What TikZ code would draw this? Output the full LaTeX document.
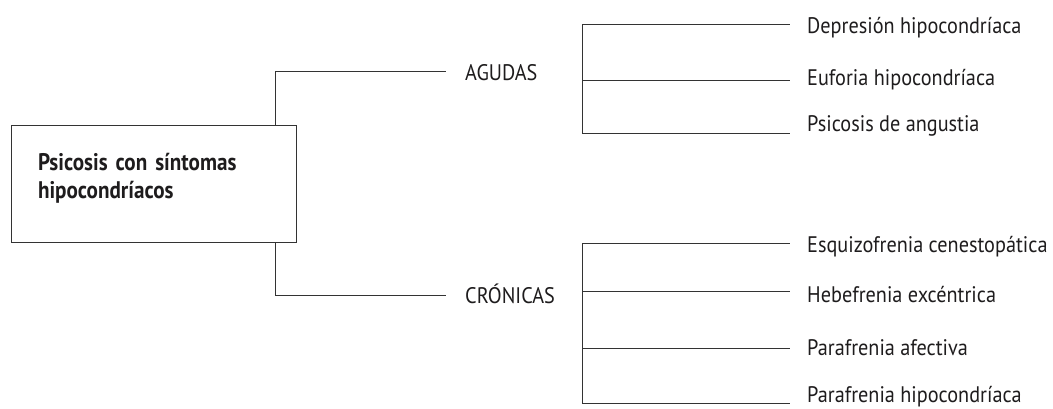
\documentclass[tikz,border=0pt]{standalone}
\usepackage{fontspec}
\setmainfont{PT Sans}[FakeStretch=0.90,BoldFeatures={FakeStretch=0.88}]
\definecolor{ink}{HTML}{1E1C1D}
\definecolor{rule}{HTML}{333333}
\begin{document}
\begin{tikzpicture}[x=1pt,y=-1pt,
  ln/.style={draw=rule,line width=1pt},
  lab/.style={anchor=base west,inner sep=0pt,text=ink,font=\fontsize{22.5}{27}\selectfont},
  titlebox/.style={draw=rule,line width=1pt,minimum width=285pt,minimum height=117pt,
    text width=231pt,inner xsep=27pt,align=left,text=ink,
    font=\bfseries\fontsize{24}{28}\selectfont}]
\useasboundingbox (0,0) rectangle (1053,408);
\node[titlebox] (box) at (153.5,183.5) {Psicosis con síntomas\\hipocondríacos\rule[-16pt]{0pt}{0pt}};
\coordinate (j) at (275,0);
\coordinate (ub) at (582,0);
\node[lab] (ag) at (465,80) {AGUDAS};
\node[lab] (cr) at (465,303) {CRÓNICAS};
\coordinate (age) at ([shift={(-19,-9)}]ag.base west);
\coordinate (cre) at ([shift={(-19,-8)}]cr.base west);
\draw[ln] (box.north -| j) |- (age);
\draw[ln] (box.south -| j) |- (cre);
% acute
\node[lab] (d1) at (807,33) {Depresión hipocondríaca};
\node[lab] (d2) at (807,85) {Euforia hipocondríaca};
\node[lab] (d3) at (807,131) {Psicosis de angustia};
\coordinate (d1e) at ([shift={(-17,-9)}]d1.base west);
\coordinate (d2e) at ([shift={(-17,-5)}]d2.base west);
\coordinate (d3e) at ([shift={(-17,2)}]d3.base west);
\draw[ln] (d1e -| ub) -- (d1e);
\draw[ln] (d2e -| ub) -- (d2e);
\draw[ln] (d3e -| ub) -- (d3e);
\draw[ln] (d1e -| ub) -- (d3e -| ub);
% chronic
\node[lab] (c1) at (807,252) {Esquizofrenia cenestopática};
\node[lab] (c2) at (807,302) {Hebefrenia excéntrica};
\node[lab] (c3) at (807,355) {Parafrenia afectiva};
\node[lab] (c4) at (807,402) {Parafrenia hipocondríaca};
\coordinate (c1e) at ([shift={(-17,-9)}]c1.base west);
\coordinate (c2e) at ([shift={(-17,-11)}]c2.base west);
\coordinate (c3e) at ([shift={(-17,-7)}]c3.base west);
\coordinate (c4e) at ([shift={(-17,1)}]c4.base west);
\draw[ln] (c1e -| ub) -- (c1e);
\draw[ln] (c2e -| ub) -- (c2e);
\draw[ln] (c3e -| ub) -- (c3e);
\draw[ln] (c4e -| ub) -- (c4e);
\draw[ln] (c1e -| ub) -- (c4e -| ub);
\end{tikzpicture}
\end{document}
